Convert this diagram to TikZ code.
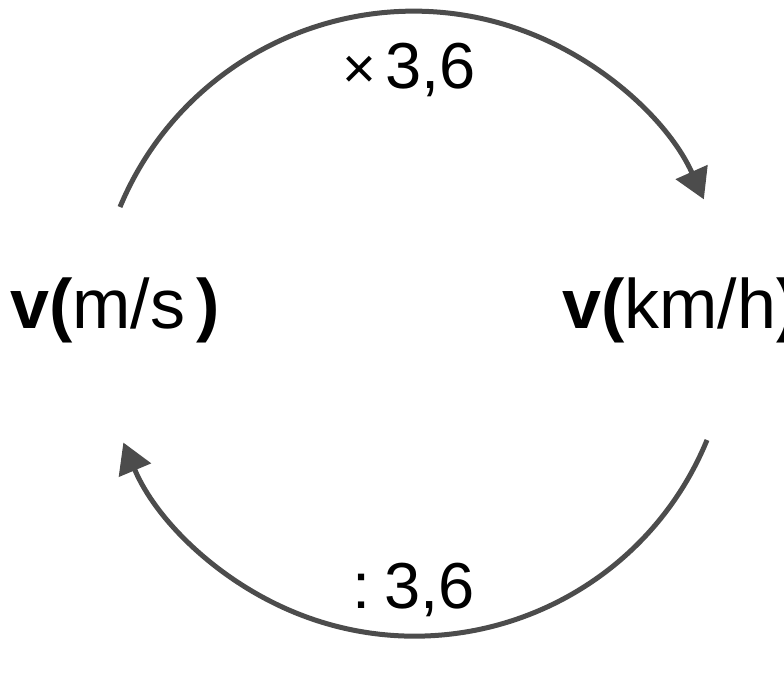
\documentclass[tikz,border=0pt]{standalone}
\usepackage{fontspec}
\setmainfont{Liberation Sans}
\usetikzlibrary{arrows.meta}
\begin{document}
\begin{tikzpicture}[x=1pt,y=-1pt,
  conv/.style={draw=black!70, line width=5pt, -{Triangle[length=30pt,width=34pt]}},
  qty/.style={anchor=base west, inner sep=0pt, font=\fontsize{70}{80}\selectfont},
  fac/.style={anchor=base west, inner sep=0pt, font=\fontsize{65}{72}\selectfont}]
\useasboundingbox (0,0) rectangle (784,675);
\begin{scope}
\clip (0,0) rectangle (784,675);
\node[qty] (ms) at (10,328) {\textbf{v(}m/s\,\textbf{)}};
\node[qty] (kmh) at (562,328) {\textbf{v(}km/h\textbf{)}};
\end{scope}
\node[fac] (mul) at (342,88) {{\fontsize{58}{60}\selectfont ×}\hspace{9pt}3,6};
\node[fac] (div) at (352,608) {:\hspace{14pt}3,6};
\coordinate (upstart) at (120,207);
\coordinate (lostart) at (707,440);
\draw[conv] (upstart) arc[start angle=-157.4, end angle=-24.1, radius=318];
\draw[conv] (lostart) arc[start angle=22.3, end angle=157.2, radius=316];
\end{tikzpicture}
\end{document}
